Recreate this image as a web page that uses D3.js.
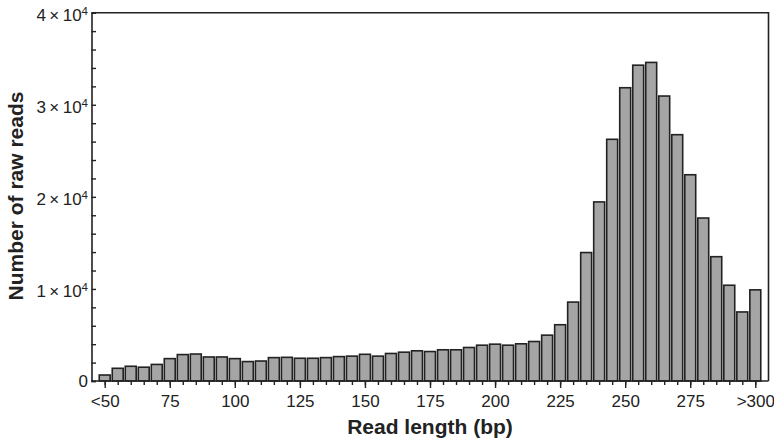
<!DOCTYPE html>
<html>
<head>
<meta charset="utf-8">
<script src="https://cdn.jsdelivr.net/npm/d3@7"></script>
<style>
  html, body { margin: 0; padding: 0; background: #fff; }
  svg { display: block; font-family: "Liberation Sans", Arial, Helvetica, sans-serif; }
</style>
</head>
<body>
<svg id="chart" width="774" height="442"></svg>
<script>
// Read-length bins (5 bp steps) and raw read counts per bin
const categories = ["<50","55","60","65","70","75","80","85","90","95","100","105","110","115","120","125","130","135","140","145","150","155","160","165","170","175","180","185","190","195","200","205","210","215","220","225","230","235","240","245","250","255","260","265","270","275","280","285","290","295",">300"];
const counts = [650,1380,1600,1500,1800,2430,2870,2930,2610,2610,2430,2110,2170,2540,2570,2470,2470,2540,2650,2700,2900,2700,2990,3130,3280,3200,3390,3390,3640,3890,4000,3890,4040,4290,4980,6110,8570,13950,19450,26250,31850,34300,34600,30950,26750,22400,17700,13500,10400,7500,9900];
const labeledTicks = ["<50","75","100","125","150","175","200","225","250","275",">300"];
const yMajor = [0,1,2,3,4];          // multiples of 10^4
const yMinorStep = 2000;

const plotLeft = 91.5, plotRight = 768.5, plotTop = 12.7, plotBottom = 381;
const svg = d3.select("#chart");
const ink = "#222";

const x = d3.scalePoint().domain(categories).range([104.7, 755.3]);
const y = d3.scaleLinear().domain([0, 40000]).range([plotBottom, plotTop]);
const barW = x.step() * 0.84;

// bars
svg.append("g").selectAll("rect")
  .data(categories.map((c, i) => ({c, v: counts[i]})))
  .join("rect")
  .attr("x", d => x(d.c) - barW / 2)
  .attr("y", d => y(d.v))
  .attr("width", barW)
  .attr("height", d => y(0) - y(d.v))
  .attr("fill", "#a5a5a5")
  .attr("stroke", ink)
  .attr("stroke-width", 1.6);

// frame: top and right edges
svg.append("path")
  .attr("d", `M${plotLeft},${plotTop}H${plotRight}V${plotBottom}`)
  .attr("fill", "none").attr("stroke", ink).attr("stroke-width", 1.6);

// x axis: minor ticks at every bin, longer labeled ticks every 25 bp
const xMinor = svg.append("g").attr("transform", `translate(0,${plotBottom})`)
  .call(d3.axisBottom(x).tickSize(4).tickFormat(""));
xMinor.select(".domain").remove();
const xMajor = svg.append("g").attr("transform", `translate(0,${plotBottom})`)
  .call(d3.axisBottom(x).tickValues(labeledTicks).tickSize(7).tickPadding(6));
xMajor.select(".domain").remove();
xMajor.attr("font-family", null);
svg.selectAll(".tick line").attr("stroke", ink).attr("stroke-width", 1.4);
xMajor.selectAll(".tick text")
  .attr("font-size", 17).attr("fill", ink).attr("dy", 0)
  .attr("y", 26);

// x baseline
svg.append("line")
  .attr("x1", plotLeft).attr("x2", plotRight).attr("y1", plotBottom).attr("y2", plotBottom)
  .attr("stroke", ink).attr("stroke-width", 1.6);

// y axis: inward ticks
const yMinorVals = d3.range(0, 40001, yMinorStep);
const yAxis = svg.append("g").attr("transform", `translate(${plotLeft},0)`)
  .call(d3.axisLeft(y).tickValues(yMinorVals).tickSize(-4.5).tickFormat(""));
yAxis.select(".domain").attr("stroke", ink).attr("stroke-width", 1.6);
yAxis.selectAll(".tick line").attr("stroke", ink).attr("stroke-width", 1.4);

// y tick labels: 0 and n×10^4
const yLab = svg.append("g").attr("font-size", 17).attr("fill", ink).attr("text-anchor", "end");
yMajor.forEach(m => {
  const ty = y(m * 1e4);
  const t = yLab.append("text").attr("x", plotLeft - 3.5);
  if (m === 0) {
    t.attr("y", ty + 6).text("0");
  } else {
    t.attr("y", ty + 8);
    t.append("tspan").text(m + "\u2009\u00d7\u200910");
    t.append("tspan").attr("font-size", 11.5).attr("dy", -5.8).text("4");
  }
});

// axis titles
svg.append("text")
  .attr("transform", `translate(22.7,196) rotate(-90)`)
  .attr("text-anchor", "middle")
  .attr("font-size", 21).attr("font-weight", "bold").attr("fill", ink)
  .text("Number of raw reads");
svg.append("text")
  .attr("x", 430).attr("y", 434)
  .attr("text-anchor", "middle")
  .attr("font-size", 21).attr("font-weight", "bold").attr("fill", ink)
  .text("Read length (bp)");
</script>
</body>
</html>
